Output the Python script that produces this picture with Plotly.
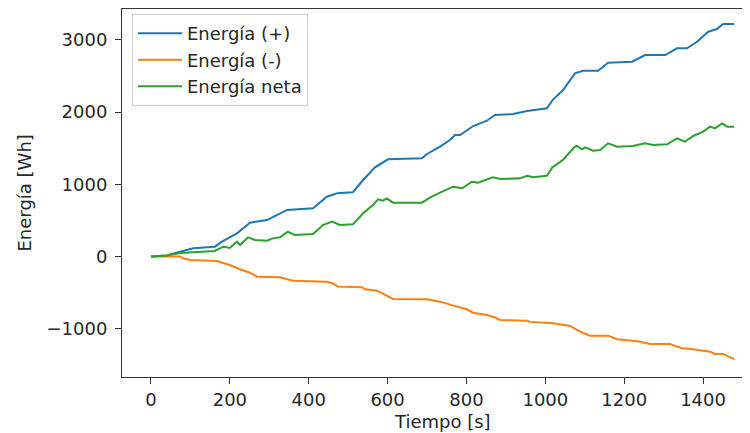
import plotly.graph_objects as go

# Energía (+)
t_pos = [0, 40, 74, 107, 162, 180, 218, 251, 294, 345, 411, 446, 472, 512, 538, 568, 601,
         687, 700, 733, 758, 771, 784, 817, 852, 872, 918, 954, 1004, 1020, 1045, 1075,
         1096, 1134, 1159, 1220, 1253, 1304, 1334, 1359, 1385, 1413, 1435, 1451, 1479]
e_pos = [0, 15, 66, 113, 136, 205, 321, 468, 505, 644, 667, 828, 875, 890, 1059, 1234, 1345,
         1359, 1419, 1520, 1612, 1682, 1682, 1806, 1880, 1958, 1972, 2014, 2051, 2176, 2304, 2535,
         2571, 2571, 2682, 2696, 2789, 2789, 2882, 2882, 2973, 3111, 3149, 3218, 3218]

# Energía (-)
t_neg = [0, 74, 81, 99, 167, 200, 226, 251, 269, 327, 360, 446, 462, 474, 535, 543, 573, 588,
         614, 700, 733, 776, 801, 817, 852, 877, 885, 954, 961, 1020, 1063, 1088, 1113, 1159,
         1182, 1233, 1266, 1316, 1347, 1375, 1418, 1430, 1451, 1474, 1479]
e_neg = [0, 0, -25, -48, -62, -118, -177, -224, -279, -288, -335, -349, -372, -417, -426, -454,
         -473, -519, -588, -593, -625, -694, -731, -778, -810, -855, -879, -888, -905, -925, -962,
         -1040, -1096, -1096, -1146, -1174, -1211, -1211, -1271, -1285, -1318, -1349, -1349,
         -1409, -1419]

# Energía neta
t_net = [0, 40, 74, 162, 183, 200, 218, 226, 246, 264, 294, 309, 327, 347, 365, 411, 436, 459,
         479, 512, 538, 563, 576, 588, 598, 614, 687, 708, 733, 766, 789, 814, 829, 867, 885,
         936, 954, 969, 1004, 1017, 1045, 1063, 1075, 1080, 1093, 1101, 1121, 1139, 1159, 1182,
         1222, 1253, 1273, 1309, 1334, 1354, 1375, 1400, 1418, 1430, 1448, 1461, 1479]
e_net = [0, 15, 48, 76, 136, 118, 205, 159, 265, 228, 219, 251, 265, 343, 297, 311, 436, 482,
         436, 445, 598, 713, 791, 773, 805, 745, 745, 819, 883, 966, 944, 1035, 1021, 1096, 1073,
         1082, 1118, 1096, 1118, 1230, 1340, 1450, 1520, 1530, 1484, 1511, 1465, 1474, 1567, 1520,
         1530, 1567, 1543, 1553, 1636, 1589, 1668, 1728, 1797, 1774, 1843, 1797, 1797]

x_ticks = [0, 200, 400, 600, 800, 1000, 1200, 1400]
y_ticks = [-1000, 0, 1000, 2000, 3000]
y_tick_text = ["\u22121000", "0", "1000", "2000", "3000"]

FONT = "DejaVu Sans"
TXT = "#262626"
AX = "#333333"

fig = go.Figure()
fig.add_trace(go.Scatter(x=t_pos, y=e_pos, mode="lines", name="Energía (+)",
                         line=dict(color="#1f77b4", width=2)))
fig.add_trace(go.Scatter(x=t_neg, y=e_neg, mode="lines", name="Energía (-)",
                         line=dict(color="#ff7f0e", width=2)))
fig.add_trace(go.Scatter(x=t_net, y=e_net, mode="lines", name="Energía neta",
                         line=dict(color="#2ca02c", width=2)))

fig.update_layout(
    width=750, height=433,
    margin=dict(l=114, r=0, t=1, b=64),
    paper_bgcolor="white", plot_bgcolor="white",
    font=dict(family=FONT, size=18, color=TXT),
    showlegend=True,
    legend=dict(x=0.0157, y=0.986, xanchor="left", yanchor="top", itemwidth=44,
                bgcolor="rgba(255,255,255,0.8)", bordercolor="#cccccc", borderwidth=1,
                font=dict(family=FONT, size=18, color=TXT)),
    xaxis=dict(range=[-73.5, 1539.3], tickvals=x_ticks, showgrid=False, zeroline=False,
               showline=True, linecolor=AX, linewidth=1, mirror=True, automargin=False,
               ticks="outside", ticklen=6, tickcolor=AX, tickwidth=1),
    yaxis=dict(range=[-1668, 3426], tickvals=y_ticks, ticktext=y_tick_text, showgrid=False,
               zeroline=False, showline=True, linecolor=AX, linewidth=1, mirror=False,
               automargin=False, ticklabelstandoff=4,
               ticks="outside", ticklen=6, tickcolor=AX, tickwidth=1),
    annotations=[
        dict(text="Tiempo [s]", xref="paper", yref="paper", x=0.5047, y=-0.1196,
             xanchor="center", yanchor="middle", showarrow=False,
             font=dict(family=FONT, size=18, color=TXT)),
        dict(text="Energía [Wh]", xref="paper", yref="paper", x=-0.1525, y=0.4986,
             xanchor="center", yanchor="middle", showarrow=False, textangle=-90,
             font=dict(family=FONT, size=18, color=TXT)),
    ],
)

fig.write_html("out.html")
